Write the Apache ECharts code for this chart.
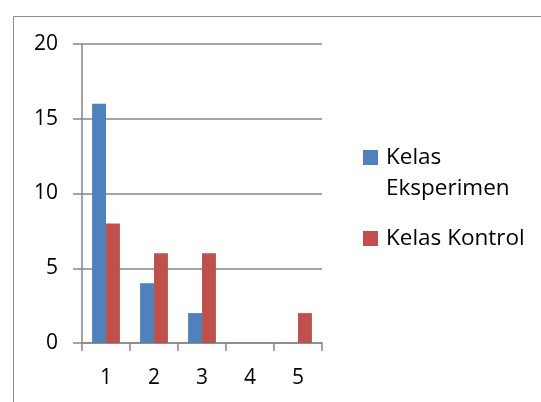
<!DOCTYPE html>
<html>
<head>
<meta charset="utf-8">
<script src="https://cdn.jsdelivr.net/npm/echarts@6/dist/echarts.min.js"></script>
<style>
  html, body { margin: 0; padding: 0; background: #fff; }
  #chart { width: 541px; height: 402px; }
</style>
</head>
<body>
<div id="chart"></div>
<script>
const categories = ['1', '2', '3', '4', '5'];
const eksperimen = [16, 4, 2, 0, 0];
const kontrol = [8, 6, 6, 0, 2];
const seriesNames = ['Kelas Eksperimen', 'Kelas Kontrol'];

const myChart = echarts.init(document.getElementById('chart'));
const font = 'Open Sans';
const gray = '#868686';

const option = {
  animation: false,
  graphic: [
    {
      type: 'rect',
      shape: { x: 13.5, y: 16.5, width: 600, height: 500 },
      style: { fill: 'none', stroke: '#8c8c8c', lineWidth: 1 }
    }
  ],
  grid: { left: 82, right: 219, top: 44, bottom: 59 },
  legend: {
    orient: 'vertical',
    left: 363,
    top: 111,
    padding: 0,
    itemWidth: 15,
    itemHeight: 15,
    itemGap: 19,
    icon: 'rect',
    textStyle: { fontFamily: font, fontSize: 22.5, color: '#000', lineHeight: 31, padding: [0, 0, 0, 3] },
    data: seriesNames,
    // empty first line keeps the square level with "Kelas"
    formatter: function (name) {
      return name === seriesNames[0] ? '\nKelas\nEksperimen' : name;
    }
  },
  xAxis: {
    type: 'category',
    data: categories,
    axisLine: { lineStyle: { color: gray, width: 1.5 } },
    axisTick: { show: true, length: 8, lineStyle: { color: gray, width: 1.5 } },
    axisLabel: { fontFamily: font, fontSize: 21, color: '#000', margin: 25 }
  },
  yAxis: {
    type: 'value',
    min: 0,
    max: 20,
    interval: 5,
    axisLine: { show: true, lineStyle: { color: gray, width: 1.5 } },
    axisTick: { show: true, length: 9, lineStyle: { color: gray, width: 1.5 } },
    splitLine: { lineStyle: { color: gray, width: 1.5 } },
    axisLabel: { fontFamily: font, fontSize: 21, color: '#000', margin: 24 }
  },
  series: [
    {
      name: seriesNames[0],
      type: 'bar',
      data: eksperimen,
      barGap: '0%',
      barCategoryGap: '42%',
      itemStyle: { color: '#4f81bd' }
    },
    {
      name: seriesNames[1],
      type: 'bar',
      data: kontrol,
      itemStyle: { color: '#c0504d' }
    }
  ]
};

myChart.setOption(option);
</script>
</body>
</html>
